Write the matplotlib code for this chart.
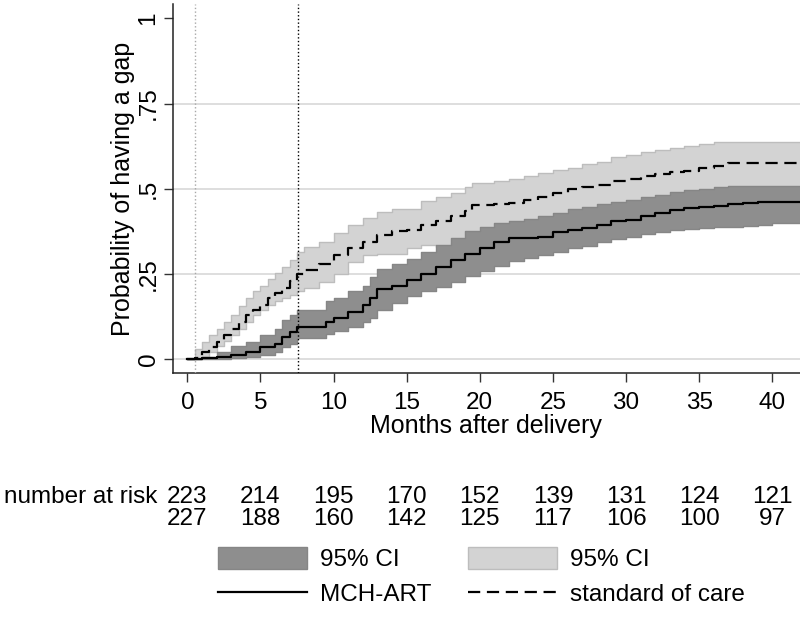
import matplotlib
matplotlib.use("Agg")
import matplotlib.pyplot as plt
from matplotlib.patches import Patch
from matplotlib.lines import Line2D
from matplotlib.transforms import blended_transform_factory

plt.rcParams['font.family'] = ['Liberation Sans', 'DejaVu Sans']

# MCH-ART group (Kaplan-Meier failure estimate with 95% CI)
t_mch = [0, 1, 2, 3, 4, 5, 6, 6.5, 7, 7.5, 9, 9.5, 10, 11, 12, 12.5, 13, 14, 15, 16,
         17, 18, 19, 20, 21, 22, 23, 24, 25, 26, 27, 28, 29, 30, 31, 32, 33, 34, 35, 36,
         37, 38, 39, 40, 42]
est_mch = [0, 0.003, 0.006, 0.012, 0.022, 0.035, 0.045, 0.065, 0.08, 0.096,
           0.096, 0.11, 0.12, 0.14, 0.16, 0.18, 0.205, 0.215, 0.232, 0.25,
           0.27, 0.29, 0.31, 0.325, 0.345, 0.355, 0.355, 0.36, 0.372, 0.38,
           0.385, 0.395, 0.405, 0.41, 0.42, 0.43, 0.437, 0.443, 0.448, 0.451,
           0.455, 0.458, 0.46, 0.462, 0.465]
hi_mch = [0, 0.008, 0.02, 0.038, 0.052, 0.07, 0.09, 0.115, 0.13, 0.145,
          0.145, 0.17, 0.18, 0.2, 0.215, 0.24, 0.265, 0.28, 0.295, 0.315,
          0.335, 0.355, 0.375, 0.388, 0.4, 0.406, 0.412, 0.42, 0.43, 0.44,
          0.447, 0.455, 0.462, 0.468, 0.475, 0.482, 0.49, 0.496, 0.5, 0.504,
          0.508, 0.508, 0.508, 0.508, 0.508]
lo_mch = [0, 0, 0, 0.003, 0.008, 0.013, 0.02, 0.035, 0.045, 0.062,
          0.062, 0.075, 0.082, 0.095, 0.108, 0.12, 0.145, 0.165, 0.185, 0.2,
          0.213, 0.228, 0.245, 0.26, 0.275, 0.287, 0.297, 0.305, 0.315, 0.325,
          0.333, 0.343, 0.352, 0.36, 0.367, 0.373, 0.378, 0.381, 0.385, 0.387,
          0.389, 0.392, 0.395, 0.399, 0.399]

# standard of care group
t_soc = [0, 0.5, 1, 1.5, 2, 2.5, 3, 3.5, 4, 4.5, 5, 5.5, 6, 6.5, 7, 7.5, 8, 9, 10, 11,
         12, 13, 14, 15, 16, 17, 18, 19, 19.5, 21, 22, 23, 24, 25, 26, 27, 28, 29, 30, 31,
         32, 33, 34, 35, 36, 37, 42]
est_soc = [0, 0.005, 0.022, 0.035, 0.05, 0.07, 0.09, 0.11, 0.13, 0.145,
           0.16, 0.18, 0.195, 0.21, 0.23, 0.25, 0.262, 0.28, 0.305, 0.325,
           0.345, 0.365, 0.375, 0.38, 0.394, 0.405, 0.42, 0.435, 0.452, 0.455,
           0.458, 0.467, 0.477, 0.488, 0.499, 0.505, 0.51, 0.522, 0.53, 0.537,
           0.543, 0.548, 0.553, 0.562, 0.567, 0.575, 0.575]
hi_soc = [0, 0.03, 0.05, 0.07, 0.09, 0.11, 0.13, 0.155, 0.18, 0.2,
          0.215, 0.235, 0.253, 0.27, 0.29, 0.315, 0.33, 0.345, 0.37, 0.395,
          0.415, 0.433, 0.44, 0.44, 0.465, 0.475, 0.488, 0.505, 0.516, 0.522,
          0.528, 0.537, 0.547, 0.555, 0.562, 0.572, 0.58, 0.592, 0.6, 0.608,
          0.614, 0.62, 0.626, 0.632, 0.636, 0.637, 0.637]
lo_soc = [0, 0, 0.008, 0.02, 0.04, 0.055, 0.07, 0.09, 0.11, 0.13,
          0.145, 0.16, 0.17, 0.18, 0.19, 0.2, 0.21, 0.228, 0.25, 0.285,
          0.305, 0.31, 0.31, 0.325, 0.335, 0.33, 0.34, 0.35, 0.36, 0.37,
          0.38, 0.385, 0.39, 0.4, 0.408, 0.415, 0.42, 0.425, 0.43, 0.436,
          0.442, 0.448, 0.453, 0.458, 0.462, 0.466, 0.47]

# reference lines (months)
vlines_grey = [0.5]
vlines_black = [7.6]

risk_times = [0, 5, 10, 15, 20, 25, 30, 35, 40]
risk_mch = [223, 214, 195, 170, 152, 139, 131, 124, 121]
risk_soc = [227, 188, 160, 142, 125, 117, 106, 100, 97]

yticks = [0, 0.25, 0.5, 0.75, 1]
ytick_labels = ["0", ".25", ".5", ".75", "1"]
xticks = [0, 5, 10, 15, 20, 25, 30, 35, 40]

FS = 17.5
W, H = 800, 635
fig = plt.figure(figsize=(W / 100, H / 100), dpi=100)
ax = fig.add_axes([172.7 / W, 1 - 373.3 / H, (W - 172.7) / W, (373.3 - 4) / H])

for g in yticks[:-1]:
    ax.axhline(g, color="#d4d4d4", lw=1.1, zorder=0)

light = "#d3d3d3"
dark = "#8e8e8e"
ax.fill_between(t_soc, lo_soc, hi_soc, step="post", facecolor=light,
                edgecolor="#bdbdbd", lw=1, zorder=1)
ax.fill_between(t_mch, lo_mch, hi_mch, step="post", facecolor=dark,
                edgecolor="#868686", lw=1, zorder=2)

for v in vlines_grey:
    ax.axvline(v, color="#a8a8a8", ls=":", lw=1, zorder=3)
for v in vlines_black:
    ax.axvline(v, color="black", ls=":", lw=1, zorder=3)

ax.plot(t_mch, est_mch, drawstyle="steps-post", color="black", lw=1.6, zorder=4)
ax.plot(t_soc, est_soc, drawstyle="steps-post", color="black", lw=1.6,
        ls=(0, (5.5, 3)), zorder=4)

ax.set_xlim(-1, 41.9)
ax.set_ylim(-0.041, 1.042)
ax.set_xticks(xticks)
ax.set_xticklabels([str(x) for x in xticks], fontsize=FS)
ax.set_yticks(yticks)
ax.set_yticklabels(ytick_labels, fontsize=FS, rotation=90, va="center")
ax.tick_params(axis="both", direction="out", length=6.5, width=1, colors="#333333",
               labelcolor="black")
ax.tick_params(axis="x", pad=7)
ax.tick_params(axis="y", pad=3)
for s in ["top", "right"]:
    ax.spines[s].set_visible(False)
for s in ["left", "bottom"]:
    ax.spines[s].set_linewidth(1.1)
    ax.spines[s].set_color("#222222")

ax.set_xlabel("Months after delivery", fontsize=FS + 0.5, labelpad=0)
ax.set_ylabel("Probability of having a gap", fontsize=FS + 0.5, labelpad=2)

# number at risk table
bt = blended_transform_factory(ax.transData, fig.transFigure)
fig.text(157 / W, 1 - 497 / H, "number at risk", fontsize=FS, ha="right", va="center")
for t, a, b in zip(risk_times, risk_mch, risk_soc):
    ax.text(t, 1 - 497 / H, str(a), transform=bt, fontsize=FS, ha="center", va="center")
    ax.text(t, 1 - 519 / H, str(b), transform=bt, fontsize=FS, ha="center", va="center")

handles = [
    Patch(facecolor=dark, edgecolor="#868686", lw=1),
    Line2D([], [], color="black", lw=1.6),
    Patch(facecolor=light, edgecolor="#bdbdbd", lw=1),
    Line2D([], [], color="black", lw=1.6, ls=(0, (5.5, 3))),
]
labels = ["95% CI", "MCH-ART", "95% CI", "standard of care"]
fig.legend(handles, labels, ncol=2, loc="upper left",
           bbox_to_anchor=(218 / W, 1 - 547 / H), frameon=False, fontsize=FS,
           handlelength=3.65, handleheight=1.0, handletextpad=0.55,
           columnspacing=1.5, labelspacing=0.45, borderpad=0, borderaxespad=0)

fig.savefig("out.png", dpi=100)
